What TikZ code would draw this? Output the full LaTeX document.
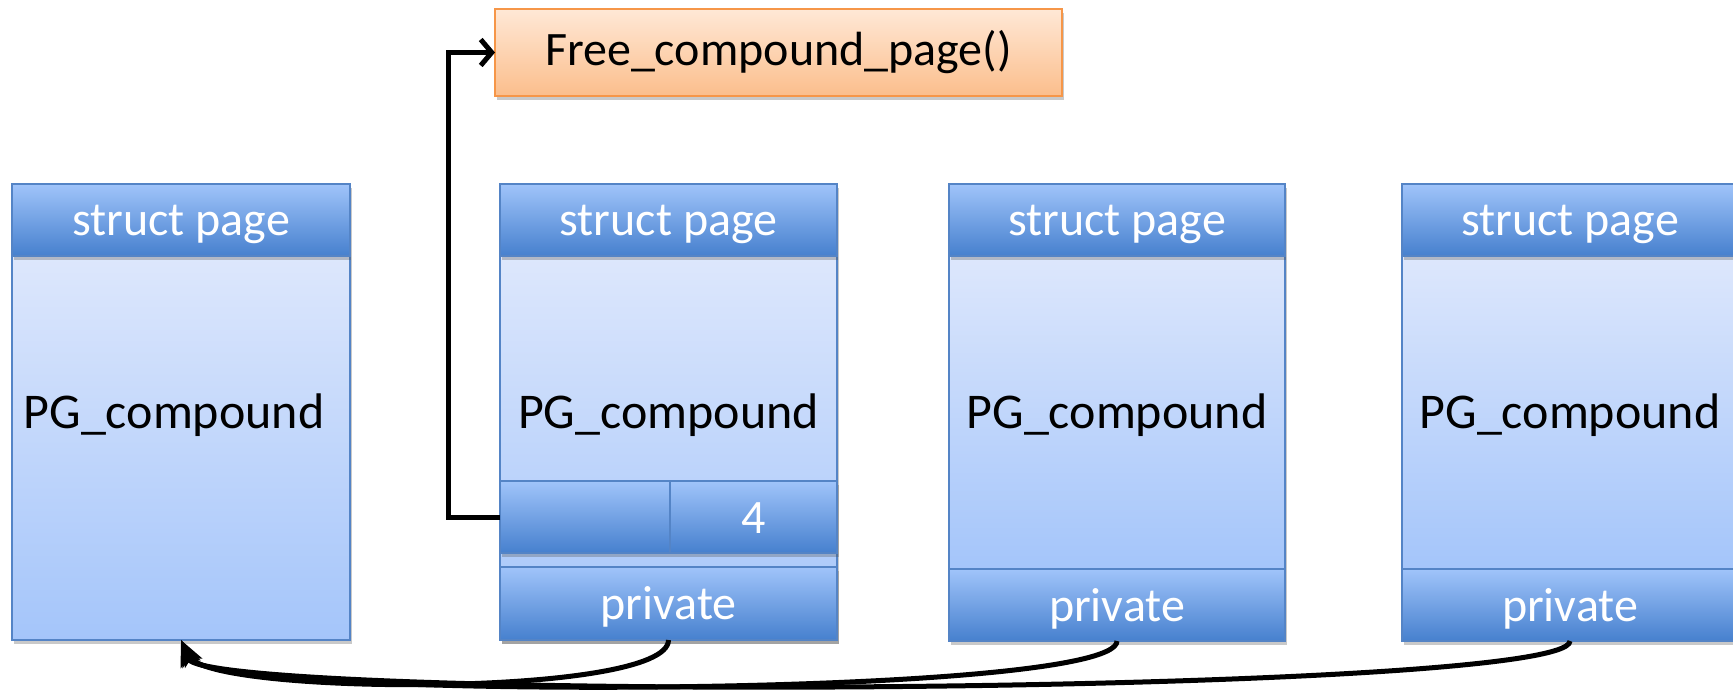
\documentclass[tikz,border=0pt]{standalone}
\usepackage{fontspec}
\setmainfont{Carlito}
\usetikzlibrary{shadows,arrows.meta}

\definecolor{hdtop}{RGB}{160,196,250}
\definecolor{hdbot}{RGB}{70,128,206}
\definecolor{bdtop}{RGB}{221,231,252}
\definecolor{bdbot}{RGB}{164,197,250}
\definecolor{edgeblue}{RGB}{84,132,198}
\definecolor{ortop}{RGB}{255,232,214}
\definecolor{orbot}{RGB}{251,190,140}
\definecolor{oredge}{RGB}{246,150,72}

\tikzset{
  shade box/.style={rectangle, inner sep=0pt, outer sep=0pt, line width=1.5pt,
    drop shadow={shadow xshift=2pt, shadow yshift=-4pt, opacity=0.3, fill=black!70}},
  hdr/.style={shade box, draw=edgeblue, top color=hdtop, bottom color=hdbot,
    text=white, font=\fontsize{48}{56}\selectfont, text height=40pt, text depth=8pt},
  bodybox/.style={shade box, draw=edgeblue, top color=bdtop, bottom color=bdbot},
  funcbox/.style={shade box, draw=oredge, top color=ortop, bottom color=orbot,
    text=black, font=\fontsize{48}{56}\selectfont},
  lbl/.style={inner sep=0pt, anchor=base, text=black, font=\fontsize{50}{60}\selectfont},
  conn/.style={line width=5pt, black},
  tip/.style={-{Straight Barb[length=11pt,width=26pt]}},
  backtip/.style={-{Stealth[length=26pt,width=19pt,inset=5pt]}}
}

\begin{document}
\begin{tikzpicture}[x=1pt, y=-1pt]
\useasboundingbox (0,0) rectangle (1733,692);

% call target
\node[funcbox, minimum width=567pt, minimum height=87pt] (fcp) at (778.5,52.5) {Free\_compound\_page()};

% page 1 (head page, no private field)
\node[bodybox, minimum width=338pt, minimum height=384pt] (b1) at (181,448) {};
\node[hdr, minimum width=338pt, minimum height=72pt] (h1) at (181,220) {struct page};
\node[lbl] (g1) at (174,429) {PG\_compound};

% page 2 (first tail page, holds destructor and order)
\node[bodybox, minimum width=337pt, minimum height=384pt] (b2) at (668.5,448) {};
\node[hdr, minimum width=337pt, minimum height=72pt] (h2) at (668.5,220) {struct page};
\node[lbl] (g2) at (668.5,429) {PG\_compound};
\node[hdr, minimum width=170pt, minimum height=72pt] (c2l) at (585,517) {};
\node[hdr, minimum width=167pt, minimum height=72pt] (c2r) at (753.5,517) {4};
\node[hdr, minimum width=337pt, minimum height=73pt] (p2) at (668.5,603.5) {private};

% page 3
\node[bodybox, minimum width=336pt, minimum height=313pt] (b3) at (1117,412.5) {};
\node[hdr, minimum width=336pt, minimum height=72pt] (h3) at (1117,220) {struct page};
\node[lbl] (g3) at (1117,429) {PG\_compound};
\node[hdr, minimum width=336pt, minimum height=72pt] (p3) at (1117,605) {private};

% page 4
\node[bodybox, minimum width=336pt, minimum height=313pt] (b4) at (1570,412.5) {};
\node[hdr, minimum width=336pt, minimum height=72pt] (h4) at (1570,220) {struct page};
\node[lbl] (g4) at (1570,429) {PG\_compound};
\node[hdr, minimum width=336pt, minimum height=72pt] (p4) at (1570,605) {private};

% destructor pointer
\draw[conn, tip] (c2l.west) -- ++(-52,0) |- (fcp.west);

% private fields pointing back to the head page
\draw[conn, backtip] (p2.south) .. controls +(0,58) and +(30,55) .. (b1.south);
\draw[conn, backtip] (p3.south) .. controls +(0,58) and +(26,60) .. (b1.south);
\draw[conn, backtip] (p4.south) .. controls +(0,55) and +(22,62) .. (b1.south);
\end{tikzpicture}
\end{document}
